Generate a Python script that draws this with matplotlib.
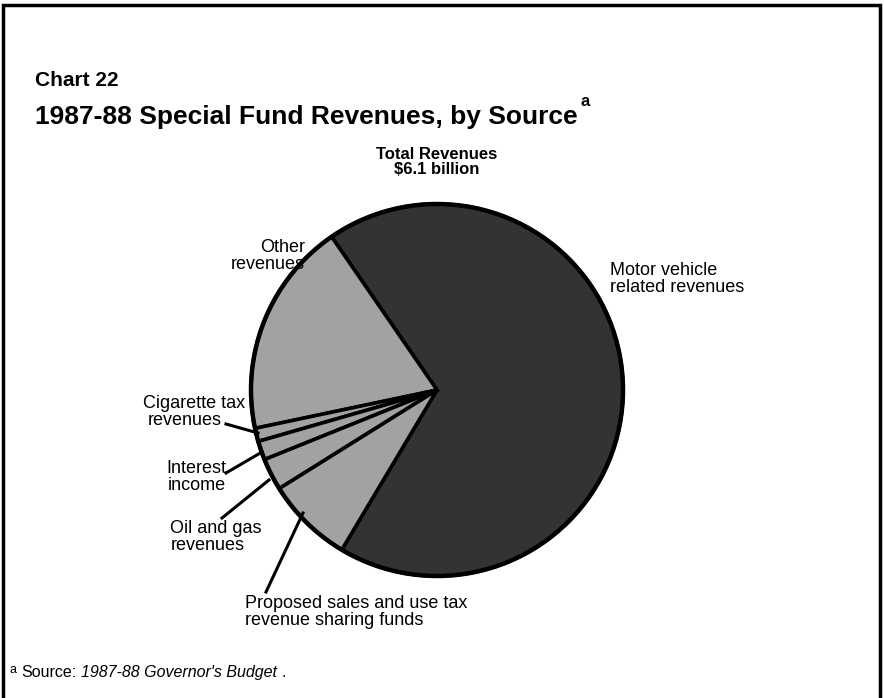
import matplotlib
matplotlib.use("Agg")
import matplotlib.pyplot as plt

# Data (billions of dollars, 1987-88 special fund revenues)
categories = ["Motor vehicle\nrelated revenues", "Other\nrevenues", "Cigarette tax\nrevenues",
              "Interest\nincome", "Oil and gas\nrevenues",
              "Proposed sales and use tax\nrevenue sharing funds"]
values = [4.15, 1.14, 0.07, 0.10, 0.17, 0.46]
colors = ["#333333", "#a2a2a2", "#a2a2a2", "#a2a2a2", "#a2a2a2", "#a2a2a2"]

W, H = 884, 698
plt.rcParams['font.family'] = ['Liberation Sans', 'DejaVu Sans']

fig = plt.figure(figsize=(W / 100, H / 100), dpi=100)
ax = fig.add_axes([0, 0, 1, 1])

def Y(y):
    return H - y

cx, cy, r = 437, 390, 186
ax.pie(values, colors=colors, startangle=239.2, counterclock=True,
       center=(cx, Y(cy)), radius=r, frame=False,
       wedgeprops=dict(edgecolor="black", linewidth=2.6))
ax.add_patch(plt.Circle((cx, Y(cy)), r, fill=False, edgecolor="black", linewidth=3.2))
ax.set_xlim(0, W)
ax.set_ylim(0, H)
ax.set_aspect('auto')
ax.axis('off')

# Frame
ax.plot([3, 3, 880, 880], [0, Y(5), Y(5), 0], color="black", lw=2.5,
        solid_joinstyle='miter')

renderer = fig.canvas.get_renderer()

def right_edge_px(t):
    bb = t.get_window_extent(renderer=renderer)
    return bb.x1

# Titles
ax.text(35, Y(86), "Chart 22", fontsize=15, fontweight="bold", ha="left", va="baseline")
t_title = ax.text(35, Y(124), "1987-88 Special Fund Revenues, by Source", fontsize=19,
                  fontweight="bold", ha="left", va="baseline")
ax.text(right_edge_px(t_title) + 3, Y(106), "a", fontsize=12, fontweight="bold",
        ha="left", va="baseline")

ax.text(437, Y(159), "Total Revenues", fontsize=12, fontweight="bold", ha="center", va="baseline")
ax.text(437, Y(174), "$6.1 billion", fontsize=12, fontweight="bold", ha="center", va="baseline")

# Labels
lab = dict(fontsize=13, ha="left", va="baseline")
ax.text(610, Y(275), "Motor vehicle", **lab)
ax.text(610, Y(292), "related revenues", **lab)

labr = dict(fontsize=13, ha="right", va="baseline")
ax.text(305, Y(252), "Other", **labr)
ax.text(305, Y(269), "revenues", **labr)

ax.text(245, Y(408), "Cigarette tax", **labr)
ax.text(222, Y(425), "revenues", **labr)
ax.plot([226, 258], [Y(424), Y(433)], color="black", lw=2.2)

ax.text(226, Y(473), "Interest", **labr)
ax.text(226, Y(490), "income", **labr)
ax.plot([226, 262], [Y(473), Y(452)], color="black", lw=2.2)

ax.text(262, Y(533), "Oil and gas", **labr)
ax.text(245, Y(550), "revenues", **labr)
ax.plot([222, 269], [Y(518), Y(480)], color="black", lw=2.2)

ax.text(245, Y(608), "Proposed sales and use tax", fontsize=13, ha="left", va="baseline")
ax.text(245, Y(625), "revenue sharing funds", fontsize=13, ha="left", va="baseline")
ax.plot([266, 303], [Y(592), Y(513)], color="black", lw=2.2)

# Footnote
ax.text(10, Y(673), "a", fontsize=9, ha="left", va="baseline")
t1 = ax.text(21, Y(677), "Source:", fontsize=11.5, ha="left", va="baseline")
t2 = ax.text(right_edge_px(t1) + 5, Y(677), "1987-88 Governor's Budget", fontsize=11.5,
             style="italic", ha="left", va="baseline")
ax.text(right_edge_px(t2) + 4, Y(677), ".", fontsize=11.5, ha="left", va="baseline")

fig.savefig("out.png", dpi=100)
